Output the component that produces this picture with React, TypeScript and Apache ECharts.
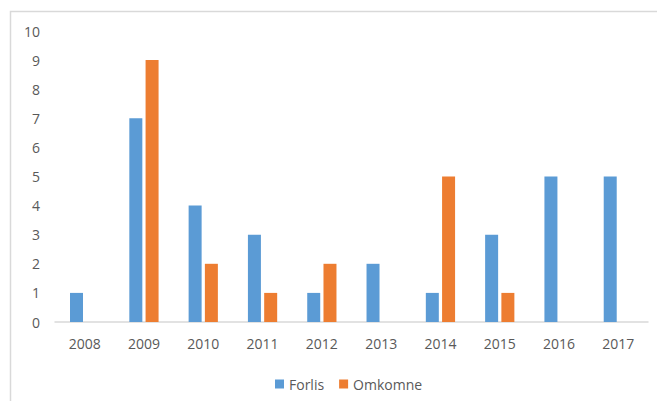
import React, { useEffect, useRef } from "react";
import * as echarts from "echarts";

const categories = ["2008", "2009", "2010", "2011", "2012", "2013", "2014", "2015", "2016", "2017"];
const forlis = [1, 7, 4, 3, 1, 2, 1, 3, 5, 5];
const omkomne = [0, 9, 2, 1, 2, 0, 5, 1, 0, 0];
const seriesNames = ["Forlis", "Omkomne"];

export default function App() {
  const ref = useRef<HTMLDivElement>(null);
  useEffect(() => {
    if (!ref.current) return;
    const chart = echarts.init(ref.current, undefined, { renderer: "svg" });
    const font = "'Open Sans', 'Liberation Sans', sans-serif";
    chart.setOption({
      animation: false,
      backgroundColor: "#ffffff",
      textStyle: { fontFamily: font },
      graphic: [
        {
          type: "rect",
          shape: { x: 10.5, y: 11.5, width: 700, height: 420 },
          style: { fill: "none", stroke: "#d9d9d9", lineWidth: 1.5 },
          silent: true,
        },
      ],
      grid: { left: 55, right: 9, top: 31, bottom: 79, containLabel: false },
      legend: {
        data: seriesNames,
        top: 372,
        left: 270,
        itemWidth: 9,
        itemHeight: 9,
        itemGap: 15,
        icon: "rect",
        textStyle: { color: "#595959", fontSize: 14, fontFamily: font },
      },
      xAxis: {
        type: "category",
        data: categories,
        axisLine: { lineStyle: { color: "#d9d9d9", width: 1.5 } },
        axisTick: { show: false },
        axisLabel: { color: "#595959", fontSize: 14, margin: 14, fontFamily: font },
      },
      yAxis: {
        type: "value",
        min: 0,
        max: 10,
        interval: 1,
        splitLine: { show: false },
        axisLine: { show: false },
        axisTick: { show: false },
        axisLabel: { color: "#595959", fontSize: 14, margin: 15, fontFamily: font },
      },
      series: [
        {
          name: seriesNames[0],
          type: "bar",
          data: forlis,
          barWidth: 13,
          barGap: "25%",
          itemStyle: { color: "#5B9BD5" },
        },
        {
          name: seriesNames[1],
          type: "bar",
          data: omkomne,
          barWidth: 13,
          barGap: "25%",
          itemStyle: { color: "#ED7D31" },
        },
      ],
    });
    return () => chart.dispose();
  }, []);
  return (
    <div
      ref={ref}
      style={{ position: "fixed", left: 0, top: 0, width: 657, height: 401 }}
    />
  );
}
